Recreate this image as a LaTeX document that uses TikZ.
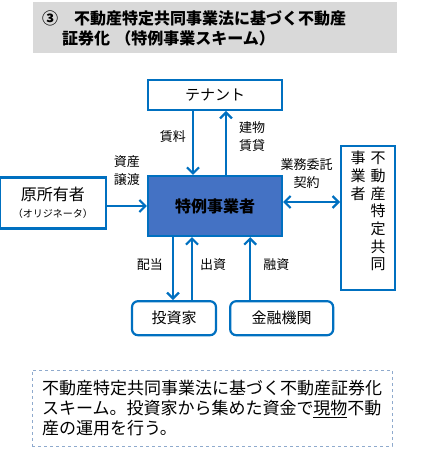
\documentclass[tikz,border=0pt]{standalone}
\usepackage{fontspec}
\setmainfont{Noto Sans CJK JP}
\usepackage{tikz}
\usetikzlibrary{arrows.meta,positioning}
\definecolor{lineblue}{RGB}{0,112,192}
\definecolor{corefill}{RGB}{68,114,196}
\definecolor{titlegray}{RGB}{217,217,217}
\definecolor{dashgray}{RGB}{143,170,205}

\begin{document}
\begin{tikzpicture}[
    x=1pt, y=-1pt,
    >={Straight Barb[length=6pt,width=12pt]},
    party/.style={draw=lineblue, line width=2.2pt, fill=white, align=center,
                  inner sep=0pt, font=\fontsize{15}{18}\selectfont},
    fund/.style={party, rounded corners=6pt},
    core/.style={draw=lineblue, line width=2.2pt, fill=corefill, minimum width=134pt,
                 minimum height=60pt, font=\fontsize{16}{19}\selectfont\bfseries},
    flow/.style={->, draw=lineblue, line width=2.2pt},
    lbl/.style={font=\fontsize{13}{18}\selectfont, align=center, inner sep=2pt},
]
\useasboundingbox (0,0) rectangle (423,454);

% --- SPC in the middle ---
\node[core] (spc) at (215,206) {特例事業者};

% --- surrounding parties ---
\node[party, minimum width=134pt, minimum height=30pt, above=64pt of spc] (tenant) {テナント};
\node[party, minimum width=106pt, minimum height=51pt, left=40pt of spc, yshift=3pt,
      font=\fontsize{16}{17}\selectfont] (owner) {原所有者\\{\fontsize{10}{12}\selectfont（オリジネータ）}};
\node[party, minimum width=54pt, minimum height=144pt, right=57pt of spc, yshift=-12pt] (operator) {};
\node[anchor=north, inner sep=0pt, font=\fontsize{15}{17}\selectfont] (optext) at ([yshift=-6pt]operator.north)
      {\begin{tabular}{@{}c@{\hspace{5pt}}c@{}}事&不\\業&動\\者&産\\&特\\&定\\&共\\&同\end{tabular}};
\node[fund, minimum width=84pt, minimum height=34pt, below=63pt of spc, xshift=-41pt] (investor) {投資家};
\node[fund, minimum width=103pt, minimum height=34pt, right=12pt of investor] (bank) {金融機関};

% --- heading and note ---
\node[fill=titlegray, minimum width=364pt, minimum height=51pt, inner xsep=9pt, text width=346pt,
      align=left, font=\fontsize{16}{20}\selectfont\bfseries, above=25pt of tenant] (title)
      {③\hspace{1em}不動産特定共同事業法に基づく不動産\\\hspace*{20pt}証券化 （特例事業スキーム）};
\node[draw=dashgray, dashed, minimum width=360pt, minimum height=76pt, inner xsep=10pt, text width=340pt,
      align=left, font=\fontsize{17}{20}\selectfont] (note) at (212,408)
      {不動産特定共同事業法に基づく不動産証券化\\スキーム。投資家から集めた資金で\underline{現物}不動\\産の運用を行う。};

% tenant <-> SPC
\draw[flow] ([xshift=-22pt]tenant.south) -- ([xshift=-22pt]spc.north)
      node[lbl, left=4pt, pos=0.4] (rent) {賃料};
\draw[flow] ([xshift=11pt]spc.north) -- ([xshift=11pt]tenant.south)
      node[lbl, right=10pt, pos=0.6] (lease) {建物\\賃貸};

% originator -> SPC, SPC <-> operator
\draw[flow] (owner.east |- spc.west) -- (spc.west)
      node[lbl, above=17pt, midway] (transfer) {資産\\譲渡};
\draw[flow, <->] ([yshift=4pt]spc.east) -- ([yshift=4pt]spc.east -| operator.west)
      node[lbl, above=10pt, midway, xshift=-5pt] (contract) {業務委託\\契約};

% money flows below
\draw[flow] ([xshift=-42pt]spc.south) -- ([xshift=-42pt]spc.south |- investor.north)
      node[lbl, left=7pt, pos=0.43] (dividend) {配当};
\draw[flow] ([xshift=18pt]investor.north) -- ([xshift=18pt]investor.north |- spc.south)
      node[lbl, right=5pt, pos=0.57] (equity) {出資};
\draw[flow] ([xshift=-31.5pt]bank.north) -- ([xshift=-31.5pt]bank.north |- spc.south)
      node[lbl, right=10pt, pos=0.57] (loan) {融資};

\end{tikzpicture}
\end{document}
